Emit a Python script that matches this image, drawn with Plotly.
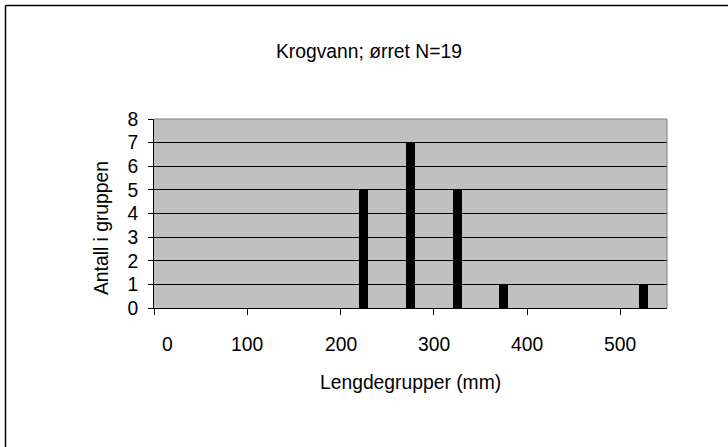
import plotly.graph_objects as go

# Length-group midpoints (mm) and number of trout in each group
length_groups = [225, 275, 325, 375, 525]
counts = [5, 7, 5, 1, 1]

x_tick_values = [0, 100, 200, 300, 400, 500]
x_tick_labels = ["0", "100", "200", "300", "400", "500"]
y_tick_values = [0, 1, 2, 3, 4, 5, 6, 7, 8]

title_text = "Krogvann; ørret N=19"
x_title = "Lengdegrupper (mm)"
y_title = "Antall i gruppen"

W, H = 728, 447
# plot-area edges in pixels
L, R, T, B = 154, 667, 119, 308

FONT = "Liberation Sans, Arial, sans-serif"
FS = 19.3


def px_x(p):
    return (p - L) / (R - L)


def px_y(p):
    return (B - p) / (B - T)


fig = go.Figure()
fig.add_trace(
    go.Bar(
        x=length_groups,
        y=counts,
        width=9.5,
        marker=dict(color="black", line=dict(width=0)),
        hoverinfo="x+y",
    )
)

annotations = [
    dict(text=title_text, x=px_x(369), y=px_y(51), xref="paper", yref="paper",
         showarrow=False, xanchor="center", yanchor="middle",
         font=dict(family=FONT, size=FS, color="black")),
    dict(text=x_title, x=px_x(410), y=px_y(382), xref="paper", yref="paper",
         showarrow=False, xanchor="center", yanchor="middle",
         font=dict(family=FONT, size=FS, color="black")),
    dict(text=y_title, x=px_x(101), y=px_y(228), xref="paper", yref="paper",
         showarrow=False, xanchor="center", yanchor="middle", textangle=-90,
         font=dict(family=FONT, size=FS, color="black")),
]

# x tick labels sit well below the axis; the first one is nudged inward
for v, t in zip(x_tick_values, x_tick_labels):
    annotations.append(
        dict(text=t, x=v, y=px_y(344), xref="x", yref="paper",
             showarrow=False, xanchor="center", yanchor="middle",
             xshift=13 if v == 0 else 0,
             font=dict(family=FONT, size=FS, color="black"))
    )

shapes = [
    # gray frame on the top and right of the plot area
    dict(type="path", xref="paper", yref="paper",
         path="M 0,1 L 1,1 L 1,0", line=dict(color="#808080", width=1),
         layer="above"),
    # chart border (top and left)
    dict(type="line", xref="paper", yref="paper",
         x0=px_x(5.5), x1=px_x(W), y0=px_y(5.5), y1=px_y(5.5),
         line=dict(color="black", width=1.5)),
    dict(type="line", xref="paper", yref="paper",
         x0=px_x(5.5), x1=px_x(5.5), y0=px_y(5.5), y1=px_y(H),
         line=dict(color="black", width=1.5)),
]

fig.update_layout(
    width=W,
    height=H,
    margin=dict(l=L, r=W - R, t=T, b=H - B, pad=0),
    paper_bgcolor="white",
    plot_bgcolor="#C0C0C0",
    showlegend=False,
    bargap=0,
    font=dict(family=FONT, size=FS, color="black"),
    annotations=annotations,
    shapes=shapes,
    xaxis=dict(
        range=[0, 550],
        tickvals=x_tick_values,
        showticklabels=False,
        ticks="outside",
        ticklen=6,
        tickcolor="black",
        tickwidth=1,
        showgrid=False,
        zeroline=False,
        showline=True,
        linecolor="black",
        linewidth=1,
        fixedrange=True,
    ),
    yaxis=dict(
        range=[0, 8],
        tickvals=y_tick_values,
        ticks="outside",
        ticklen=5,
        tickcolor="black",
        tickwidth=1,
        ticklabelstandoff=6,
        tickfont=dict(family=FONT, size=FS, color="black"),
        showgrid=True,
        gridcolor="black",
        gridwidth=1,
        zeroline=False,
        showline=True,
        linecolor="black",
        linewidth=1,
        fixedrange=True,
    ),
)

fig.write_html("out.html", config={"displayModeBar": False})
